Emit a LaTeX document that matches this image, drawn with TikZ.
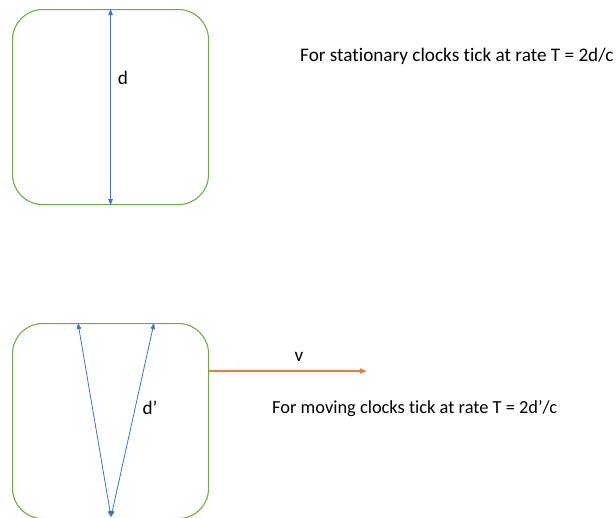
\documentclass[tikz,border=0pt]{standalone}
\usepackage{fontspec}
\setmainfont{Carlito}[Ligatures={NoCommon}]
\usetikzlibrary{arrows.meta}
\definecolor{boxgreen}{HTML}{70AD47}
\definecolor{arrblue}{HTML}{4472C4}
\definecolor{arrorange}{HTML}{ED7D31}
\begin{document}
\begin{tikzpicture}[x=1pt,y=-1pt,
  clockbox/.style={draw=boxgreen,line width=1.1pt,rounded corners=30pt,minimum width=196pt,minimum height=195pt,inner sep=0pt,anchor=north west},
  bluearr/.style={draw=arrblue,line width=0.8pt,{Triangle[length=6pt,width=4.5pt]}-{Triangle[length=6pt,width=4.5pt]}},
  orangearr/.style={draw=arrorange,line width=1.8pt,-{Triangle[length=7pt,width=5pt]}},
  lbl/.style={font=\fontsize{19.2}{22}\selectfont,inner sep=0pt},
  lblsmall/.style={font=\fontsize{18.4}{22}\selectfont,inner sep=0pt}]
\useasboundingbox (0,0) rectangle (616,517);
\clip (0,0) rectangle (616,517);
\node[clockbox] (top) at (12,9) {};
\node[clockbox] (bot) at (12,323) {};
\draw[bluearr] (top.north) -- (top.south);
\node[lbl] (d) at (123,78) {d};
\coordinate (p1) at (78,323);
\coordinate (p2) at (154,323);
\coordinate (pb) at (111,517);
\draw[bluearr] (p1) -- (pb);
\draw[bluearr] (pb) -- (p2);
\node[lbl] (dp) at (150,408) {d’};
\coordinate (vend) at (367,371);
\draw[orangearr] (bot.east |- vend) -- (vend);
\node[lbl] (v) at (299,357) {v};
\node[lbl,anchor=west] (t1) at (300,56) {For stationary clocks tick at rate T = 2d/c};
\node[lblsmall,anchor=west] (t2) at (272,409) {For moving clocks tick at rate T = 2d’/c};
\end{tikzpicture}
\end{document}
